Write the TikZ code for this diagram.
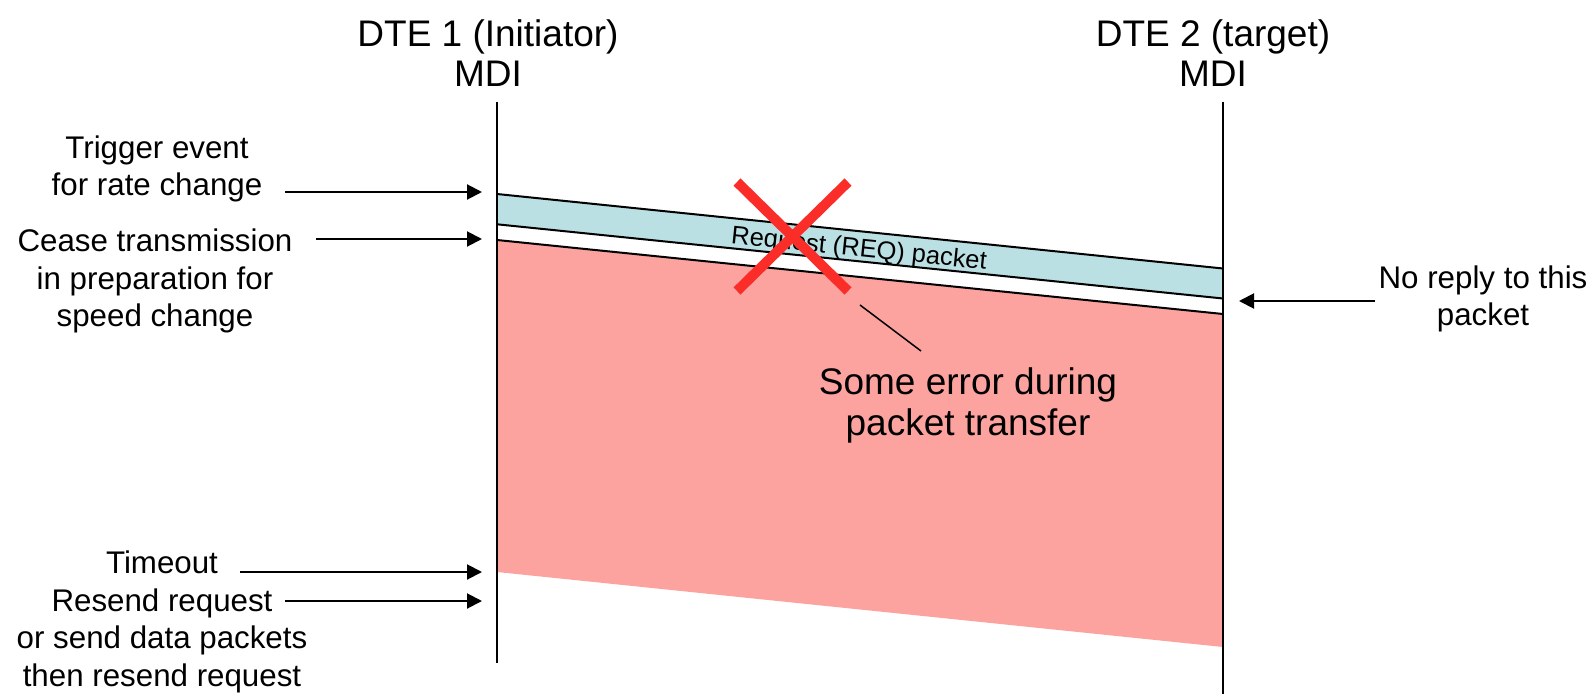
\documentclass[tikz,border=0pt]{standalone}
\usepackage{fontspec}
\setmainfont{Liberation Sans}
\usetikzlibrary{arrows.meta}
\definecolor{reqfill}{RGB}{186,224,227}
\definecolor{waitfill}{RGB}{252,163,160}
\definecolor{xred}{RGB}{250,45,40}

\begin{document}
\begin{tikzpicture}[x=1bp,y=-1bp,
  lbl/.style={font=\fontsize{31.3bp}{37.5bp}\selectfont, align=center, inner sep=0pt},
  head/.style={font=\fontsize{37bp}{40bp}\selectfont, align=center, inner sep=0pt},
  big/.style={font=\fontsize{37bp}{41bp}\selectfont, align=center, inner sep=0pt},
  ptr/.style={line width=2bp, -{Triangle[length=15bp,width=15bp]}},
  edge/.style={line width=2bp},
  cross/.style={xred, line width=10bp, line cap=butt}]
\useasboundingbox (0,0) rectangle (1594,694);

% lifelines
\coordinate (Ltop) at (497,102);
\coordinate (Lbot) at (497,663);
\coordinate (Rtop) at (1223,102);
\coordinate (Rbot) at (1223,694);

% waiting period after the request
\coordinate (w1) at (497,240);
\coordinate (w2) at (1223,314);
\coordinate (w3) at (1223,647);
\coordinate (w4) at (497,572);
\fill[waitfill] (w1) -- (w2) -- (w3) -- (w4) -- cycle;
\draw[edge] (w1) -- (w2);

% request packet
\coordinate (q1) at (497,194);
\coordinate (q2) at (1223,268.5);
\coordinate (q3) at (1223,298.5);
\coordinate (q4) at (497,224.3);
\fill[reqfill] (q1) -- (q2) -- (q3) -- (q4) -- cycle;
\draw[edge] (q1) -- (q2);
\draw[edge] (q4) -- (q3);
\node[font=\fontsize{25.5bp}{28bp}\selectfont, inner sep=0pt, rotate=-5.86] (req) at (859,250) {Request (REQ) packet};

\draw[edge] (Ltop) -- (Lbot);
\draw[edge] (Rtop) -- (Rbot);

% headers
\node[head] (dte1) at (488,53) {DTE 1 (Initiator)\\MDI};
\node[head] (dte2) at (1213,53) {DTE 2 (target)\\MDI};

% error mark
\coordinate (xa) at (737,182);
\coordinate (xb) at (848,291);
\coordinate (xc) at (848,182);
\coordinate (xd) at (737,291);
\draw[cross] (xa) -- (xb);
\draw[cross] (xc) -- (xd);

\node[big] (err) at (968,405) {Some error during\\packet transfer};
\coordinate (e1) at (860,305);
\coordinate (e2) at (921,351);
\draw[line width=1.5bp] (e1) -- (e2);

% left side events
\node[lbl] (trig) at (157,169) {Trigger event\\for rate change};
\coordinate (t1) at (285,192);
\coordinate (t2) at (482,192);
\draw[ptr] (t1) -- (t2);

\node[lbl] (cease) at (155,281) {Cease transmission\\in preparation for\\speed change};
\coordinate (c1) at (316,239);
\coordinate (c2) at (482,239);
\draw[ptr] (c1) -- (c2);

\node[lbl] (retry) at (162,622) {Timeout\\Resend request\\or send data packets\\then resend request};
\coordinate (o1) at (240,572);
\coordinate (o2) at (482,572);
\draw[ptr] (o1) -- (o2);
\coordinate (r1) at (285,601);
\coordinate (r2) at (482,601);
\draw[ptr] (r1) -- (r2);

% right side note
\node[lbl] (noreply) at (1483,299) {No reply to this\\packet};
\coordinate (n1) at (1375,301);
\coordinate (n2) at (1239,301);
\draw[ptr] (n1) -- (n2);
\end{tikzpicture}
\end{document}
